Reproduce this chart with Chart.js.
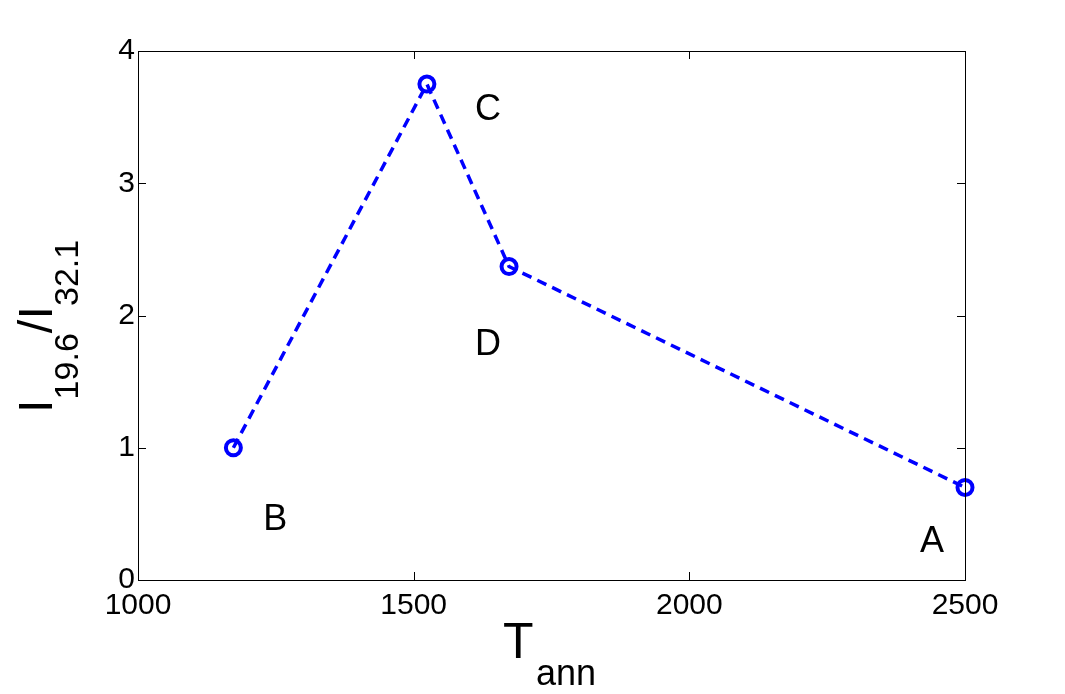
<!DOCTYPE html>
<html>
<head>
<meta charset="utf-8">
<script src="https://cdn.jsdelivr.net/npm/chart.js@4/dist/chart.umd.min.js"></script>
<style>
  html, body { margin: 0; padding: 0; background: #fff; }
  #wrap { width: 1065px; height: 694px; }
</style>
</head>
<body>
<div id="wrap"><canvas id="mycanvas" width="1065" height="694"></canvas></div>
<script>
// annealing temperature vs intensity ratio
var tAnn = [1173, 1524, 1673, 2500];
var ratio = [1.0, 3.75, 2.37, 0.70];

var xTicks = [1000, 1500, 2000, 2500];
var yTicks = [0, 1, 2, 3, 4];

// point labels
var labelText = ['C', 'D', 'B', 'A'];
var labelX = [1635, 1635, 1249, 2440];
var labelY = [3.555, 1.78, 0.45, 0.29];

var FONT = "'Liberation Sans', Arial, Helvetica, sans-serif";

var points = [];
for (var i in tAnn) {
	points.push({x: tAnn[i], y: ratio[i]});
}

// box, inward ticks, annotations and axis titles
var boxPlugin = {
	id: 'boxPlugin',
	afterDraw: function(chart) {
		var c = chart.ctx;
		var a = chart.chartArea;
		var xs = chart.scales.x, ys = chart.scales.y;
		var tl = 8;
		c.save();
		c.strokeStyle = '#000';
		c.lineWidth = 1;
		c.strokeRect(Math.round(a.left) + 0.5, Math.round(a.top) + 0.5,
			Math.round(a.right - a.left), Math.round(a.bottom - a.top));
		c.beginPath();
		xTicks.forEach(function(v) {
			var px = Math.round(xs.getPixelForValue(v)) + 0.5;
			c.moveTo(px, a.bottom); c.lineTo(px, a.bottom - tl);
			c.moveTo(px, a.top); c.lineTo(px, a.top + tl);
		});
		yTicks.forEach(function(v) {
			var py = Math.round(ys.getPixelForValue(v)) + 0.5;
			c.moveTo(a.left, py); c.lineTo(a.left + tl, py);
			c.moveTo(a.right, py); c.lineTo(a.right - tl, py);
		});
		c.stroke();

		// letters
		c.fillStyle = '#000';
		c.font = '36px ' + FONT;
		c.textAlign = 'center';
		c.textBaseline = 'middle';
		for (var i in labelText) {
			c.fillText(labelText[i], xs.getPixelForValue(labelX[i]), ys.getPixelForValue(labelY[i]));
		}

		// x title: T_ann
		c.textAlign = 'left';
		c.textBaseline = 'alphabetic';
		c.font = '50px ' + FONT;
		c.fillText('T', 503, 658);
		c.font = '36px ' + FONT;
		c.fillText('ann', 536, 685);

		// y title: I_19.6 / I_32.1 (rotated)
		c.translate(52, 413);
		c.rotate(-Math.PI / 2);
		var x = 0;
		var parts = [['I', 0, 49], ['19.6', 26, 34], ['/', 0, 49], ['I', 0, 49], ['32.1', 26, 34]];
		parts.forEach(function(p) {
			c.font = p[2] + 'px ' + FONT;
			c.fillText(p[0], x, p[1]);
			x += c.measureText(p[0]).width;
		});
		c.restore();
	}
};

var ctx = document.getElementById('mycanvas');

var chart = new Chart(ctx, {
	type: 'line',
	data: {
		datasets: [
			{
				label: 'ratio',
				data: points,
				borderColor: '#0000ff',
				borderWidth: 3.5,
				borderDash: [10, 6.5],
				backgroundColor: 'rgba(0,0,0,0)',
				pointRadius: 7.5,
				pointBorderWidth: 4,
				pointBorderColor: '#0000ff',
				pointBackgroundColor: 'rgba(0,0,0,0)',
				fill: false,
				tension: 0
			}
		]
	},
	options: {
		responsive: false,
		animation: false,
		clip: false,
		layout: { padding: { left: 0, top: 51, right: 100, bottom: 0 } },
		plugins: { legend: { display: false }, tooltip: { enabled: false } },
		scales: {
			x: {
				type: 'linear',
				min: 1000, max: 2500,
				afterBuildTicks: function(s) { s.ticks = xTicks.map(function(v) { return {value: v}; }); },
				afterFit: function(s) { s.height = 114; },
				grid: { display: false, drawTicks: false },
				border: { display: false },
				ticks: {
					color: '#000', font: { family: FONT, size: 30 }, padding: 8, maxRotation: 0,
					callback: function(v) { return String(v); }
				}
			},
			y: {
				min: 0, max: 4,
				afterBuildTicks: function(s) { s.ticks = yTicks.map(function(v) { return {value: v}; }); },
				afterFit: function(s) { s.width = 138; },
				grid: { display: false, drawTicks: false },
				border: { display: false },
				ticks: {
					color: '#000', font: { family: FONT, size: 30 }, padding: 3,
					callback: function(v) { return String(v); }
				}
			}
		}
	},
	plugins: [boxPlugin]
});
</script>
</body>
</html>
